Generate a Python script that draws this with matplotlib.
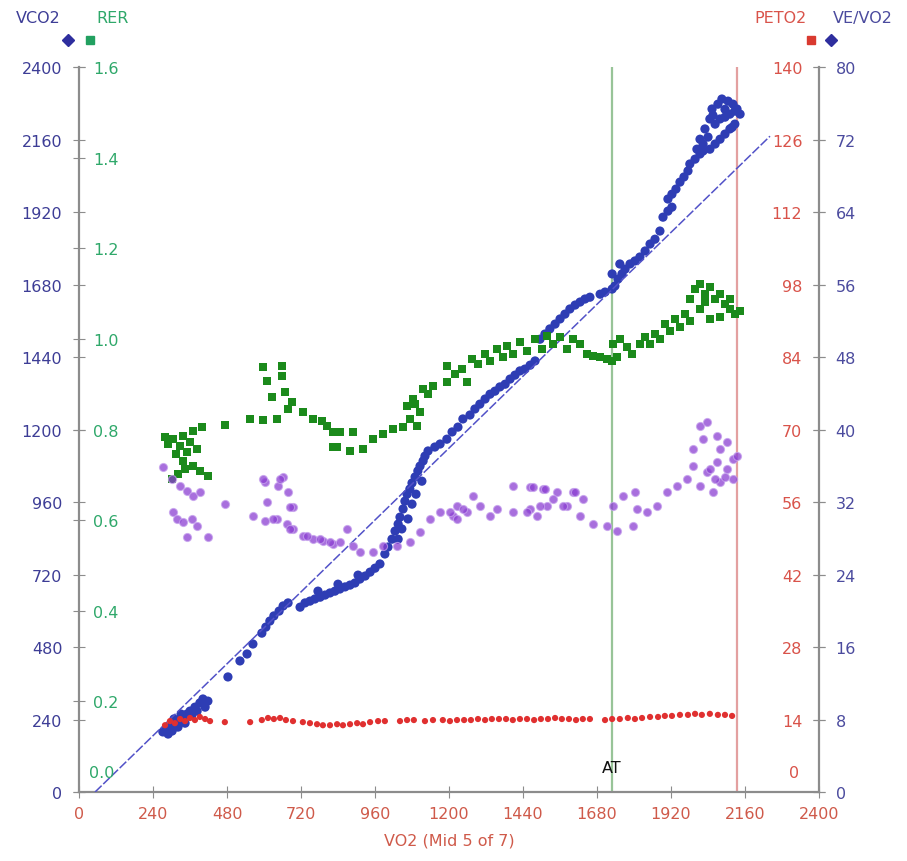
import matplotlib
matplotlib.use('Agg')
import matplotlib.pyplot as plt
from matplotlib.lines import Line2D

plt.rcParams['font.family'] = ['DejaVu Sans']

# VCO2 vs VO2 (mL/min)
vco2_vo2 = [272, 282, 295, 289, 302, 311, 321, 328, 337, 344, 350, 360, 366, 376, 383, 392, 402, 409, 418, 308, 331,
            483, 522, 545, 564, 593, 606, 619, 632, 649, 662, 678,
            717, 733, 749, 765, 782, 798, 814, 830, 846, 863, 879, 895, 911, 928, 944, 960, 976, 775, 840, 905,
            992, 1002, 1015, 1025, 1035, 1041, 1051, 1057, 1064, 1073, 1080, 1090, 1099, 1106, 1116, 1122, 1132,
            1035, 1047, 1067, 1080, 1093, 1112,
            1154, 1171, 1193, 1210, 1229, 1245, 1268, 1284, 1300, 1317, 1333, 1349, 1365, 1382, 1398, 1414, 1430,
            1446, 1463, 1479,
            1495, 1511, 1527, 1544, 1560, 1576, 1592, 1609, 1625, 1641, 1657,
            1690, 1706, 1729, 1738, 1748, 1761, 1771, 1787, 1803, 1819, 1836, 1852, 1868, 1884, 1729, 1754,
            1894, 1910, 1923, 1910, 1923, 1936, 1949, 1962, 1975, 1981, 1998, 2014, 2004, 2024,
            2014, 2030, 2046, 2053, 2072, 2085, 2105, 2121, 2134, 2144, 2127, 2111, 2095, 2079, 2063, 2046,
            2063, 2095, 2040, 2024, 2111, 2079, 2127, 2095, 2056, 2118]
vco2 = [199, 209, 215, 192, 202, 225, 215, 235, 248, 228, 258, 268, 255, 281, 268, 295, 308, 281, 301, 242, 258,
        381, 434, 457, 490, 526, 546, 566, 583, 599, 616, 626,
        612, 626, 632, 639, 645, 652, 659, 665, 672, 679, 685, 692, 705, 715, 728, 741, 755, 665, 688, 718,
        788, 811, 837, 864, 887, 910, 937, 963, 986, 1003, 1023, 1043, 1063, 1079, 1096, 1112, 1129,
        837, 871, 904, 953, 986, 1029,
        1142, 1152, 1168, 1192, 1208, 1235, 1248, 1268, 1284, 1301, 1317, 1327, 1341, 1350, 1367, 1380, 1394,
        1400, 1413, 1427,
        1499, 1516, 1533, 1549, 1566, 1582, 1599, 1612, 1622, 1632, 1638,
        1648, 1655, 1665, 1675, 1698, 1715, 1731, 1748, 1758, 1771, 1791, 1814, 1830, 1857, 1715, 1748,
        1903, 1923, 1936, 1963, 1979, 1996, 2019, 2036, 2056, 2079, 2095, 2112, 2128, 2145,
        2161, 2195, 2228, 2261, 2277, 2294, 2287, 2277, 2261, 2244, 2211, 2195, 2178, 2161, 2145, 2128,
        2211, 2234, 2168, 2122, 2244, 2228, 2254, 2260, 2240, 2200]

# RER
rer_vo2 = [279, 305, 337, 370, 399, 328, 350, 337, 370, 392, 418, 302, 360, 383, 289, 315, 344, 321,
           473, 555, 597, 642, 597, 658, 610, 658, 626, 668, 691, 678, 726, 759, 788, 804, 824, 824,
           846, 889, 837, 879, 921, 953, 986, 1018, 1051, 1096, 1064, 1083, 1116, 1148, 1193, 1106, 1073,
           1090, 1132,
           1193, 1219, 1242, 1258, 1274, 1294, 1317, 1333, 1356, 1375, 1388, 1407, 1430, 1453, 1479, 1501,
           1518, 1537, 1560, 1583, 1602, 1625, 1647, 1667, 1690, 1712, 1729, 1745, 1732, 1754, 1777, 1793,
           1819, 1836, 1852, 1868, 1884, 1900, 1917, 1933, 1949, 1965, 1981, 1998, 2014, 2030, 2046, 2063,
           2079, 2095, 2111, 2127, 2144, 2014, 2046, 2079, 1981, 2111, 2030]
rer = [0.783, 0.779, 0.786, 0.797, 0.806, 0.764, 0.750, 0.730, 0.719, 0.708, 0.697, 0.691, 0.772, 0.757,
       0.768, 0.746, 0.713, 0.702,
       0.810, 0.823, 0.821, 0.823, 0.938, 0.940, 0.907, 0.918, 0.872, 0.883, 0.861, 0.845, 0.839, 0.823,
       0.819, 0.808, 0.794, 0.761,
       0.794, 0.794, 0.761, 0.753, 0.757, 0.779, 0.790, 0.801, 0.806, 0.808, 0.852, 0.867, 0.889, 0.896,
       0.905, 0.839, 0.823, 0.856, 0.878,
       0.940, 0.922, 0.934, 0.905, 0.956, 0.945, 0.967, 0.951, 0.978, 0.960, 0.984, 0.967, 0.993, 0.973,
       1.000, 0.978,
       1.006, 0.989, 1.004, 0.978, 1.000, 0.989, 0.967, 0.962, 0.960, 0.956, 0.951, 0.960, 0.989, 1.000,
       0.982, 0.967,
       0.989, 1.004, 0.989, 1.011, 1.000, 1.033, 1.017, 1.044, 1.026, 1.055, 1.088, 1.110, 1.121, 1.099,
       1.114, 1.088,
       1.099, 1.077, 1.066, 1.055, 1.061, 1.066, 1.044, 1.048, 1.039, 1.088, 1.081]

# VE/VO2
vevo2_vo2 = [272, 302, 328, 350, 370, 392, 305, 318, 337, 366, 383, 350, 418, 473,
             603, 645, 662, 678, 610, 694, 564, 603, 642, 675, 694, 726, 759, 791, 824, 846,
             597, 652, 684, 629, 684, 739, 782, 814, 869, 889, 911, 953, 986, 1031, 1073, 1106, 1138,
             1171, 1213, 1258, 1300, 1278, 1226,
             1407, 1463, 1505, 1550, 1602, 1634, 1583, 1518, 1463, 1407, 1356, 1245, 1203, 1226, 1333,
             1485, 1625, 1667, 1472, 1511, 1537, 1495, 1453, 1570, 1609,
             1712, 1745, 1732, 1764, 1803, 1810, 1842, 1797, 1874, 1907, 1939, 1972, 1991, 2014, 2037,
             2069, 2101, 2121, 2079, 2056, 1991, 2024, 2014, 2037, 2069, 2101, 2134, 2079, 2121,
             2046, 2095, 2063]
vevo2 = [35.9, 34.5, 33.8, 33.2, 32.7, 33.1, 30.9, 30.1, 29.8, 30.1, 29.4, 28.1, 28.1, 31.8,
         34.2, 33.8, 34.8, 33.1, 32.0, 31.4, 30.5, 29.9, 30.1, 29.6, 29.0, 28.2, 27.9, 27.7, 27.4, 27.6,
         34.5, 34.5, 31.4, 30.1, 29.0, 28.2, 27.9, 27.6, 29.0, 27.1, 26.5, 26.5, 27.1, 27.1, 27.6, 28.7,
         30.1, 30.9, 30.5, 30.9, 31.6, 32.7, 31.6,
         33.8, 33.7, 33.4, 33.1, 33.1, 32.3, 31.6, 31.6, 31.2, 30.9, 31.2, 31.2, 30.9, 30.1, 30.5,
         30.5, 30.5, 29.6, 33.7, 33.4, 32.3, 31.6, 30.9, 31.6, 33.1,
         29.4, 28.8, 31.6, 32.7, 33.1, 31.2, 30.9, 29.4, 31.6, 33.1, 33.8, 34.5, 36.0, 33.8, 35.3,
         36.4, 35.6, 36.7, 34.2, 33.1, 37.8, 38.9, 40.4, 40.8, 39.3, 38.6, 37.1, 37.8, 34.5,
         35.6, 34.8, 34.5]

# PETO2
peto2_vo2 = [279, 295, 311, 328, 344, 360, 376, 392, 409, 425,
             473, 555, 593, 613, 632, 652, 671, 694,
             726, 749, 772, 791, 814, 837, 856, 879, 902, 921, 944, 970, 992,
             1041, 1064, 1086,
             1122, 1148, 1180, 1203, 1226, 1249, 1271, 1294, 1317, 1339, 1362, 1385, 1407, 1430, 1453, 1476,
             1498, 1521, 1544, 1566, 1589, 1612, 1634, 1657,
             1706, 1729, 1754, 1780, 1803, 1826, 1852, 1878, 1900, 1923, 1949, 1975, 1998, 2020, 2046, 2072,
             2095, 2118]
peto2 = [12.9, 13.7, 13.3, 14.1, 13.7, 14.3, 13.9, 14.5, 14.1, 13.7,
         13.5, 13.5, 13.9, 14.3, 14.1, 14.3, 13.9, 13.7,
         13.5, 13.3, 13.1, 12.9, 12.9, 13.1, 12.9, 13.1, 13.3, 13.1, 13.5, 13.7, 13.7,
         13.7, 13.9, 13.9,
         13.7, 13.9, 13.9, 13.7, 13.9, 13.9, 13.9, 14.1, 13.9, 14.1, 14.1, 14.1, 13.9, 14.1, 14.1, 13.9,
         14.1, 14.1, 14.3, 14.1, 14.1, 13.9, 14.1, 14.1,
         13.9, 14.1, 14.1, 14.3, 14.1, 14.3, 14.5, 14.5, 14.7, 14.7, 14.9, 14.9, 15.1, 14.9, 15.1, 14.9,
         14.9, 14.7]

# regression line of VCO2 on VO2
fit_vo2 = [52, 2241]
fit_vco2 = [0, 2171]

at_vo2 = 1728
max_vo2 = 2134

x_ticks = [0, 240, 480, 720, 960, 1200, 1440, 1680, 1920, 2160, 2400]
vco2_ticks = [0, 240, 480, 720, 960, 1200, 1440, 1680, 1920, 2160, 2400]
rer_ticks = [0.0, 0.2, 0.4, 0.6, 0.8, 1.0, 1.2, 1.4, 1.6]
peto2_ticks = [0, 14, 28, 42, 56, 70, 84, 98, 112, 126, 140]
vevo2_ticks = [0, 8, 16, 24, 32, 40, 48, 56, 64, 72, 80]

c_vco2 = '#3d3d96'
c_rer = '#2fa86a'
c_pet = '#d9534a'
c_ve = '#4b4b9e'
c_x = '#cf5a4a'
spine_c = '#8c8c8c'
fs = 11.5

fig = plt.figure(figsize=(9.07, 8.62), dpi=100)
ax = fig.add_axes([0.0871, 0.0800, 0.8159, 0.8411])
ax.set_xlim(0, 2400)
ax.set_ylim(0, 2400)

for s in ['left', 'bottom', 'right']:
    ax.spines[s].set_color(spine_c)
    ax.spines[s].set_linewidth(1.6)
ax.spines['top'].set_visible(False)

ax.set_xticks(x_ticks)
ax.set_xticklabels([str(t) for t in x_ticks])
ax.set_yticks(vco2_ticks)
ax.set_yticklabels([str(t) for t in vco2_ticks])
ax.tick_params(axis='x', direction='inout', length=8, color=spine_c, labelcolor=c_x, labelsize=fs, pad=6)
ax.tick_params(axis='y', direction='inout', length=8, color=spine_c, labelcolor=c_vco2, labelsize=fs, pad=8)
ax.set_xlabel('VO2 (Mid 5 of 7)', color=c_x, fontsize=fs, labelpad=8)

ax.axvline(at_vo2, color='#98c498', lw=1.6, zorder=1)
ax.axvline(max_vo2, color='#e3a0a0', lw=1.6, zorder=1)
ax.text(at_vo2, 55, 'AT', ha='center', va='bottom', fontsize=fs, color='#111111')

ax.scatter(vco2_vo2, vco2, marker='o', s=44, color='#2e3db4', edgecolors='none', zorder=3)
ax.plot(fit_vo2, fit_vco2, color='#5252c8', lw=1.1, ls=(0, (6, 1.5)), zorder=4)

# RER axis: ticks on the left spine, labels inside the frame
ax_rer = ax.twinx()
ax_rer.set_ylim(0, 1.6)
ax_rer.spines['right'].set_position(('axes', 0))
for s in ax_rer.spines.values():
    s.set_visible(False)
ax_rer.set_yticks(rer_ticks)
ax_rer.set_yticklabels([''] + ['%.1f' % t for t in rer_ticks[1:]])
ax_rer.tick_params(axis='y', direction='inout', length=8, color=spine_c, labelcolor=c_rer, labelsize=fs, pad=6)
ax_rer.annotate('0.0', xy=(0, 0), xycoords=('axes fraction', 'data'), xytext=(7, 14),
                textcoords='offset points', ha='left', va='center', color=c_rer, fontsize=fs)
ax_rer.scatter(rer_vo2, rer, marker='s', s=32, color='#1b8a1b', edgecolors='none', zorder=3)

# PETO2 axis: ticks on the right spine, labels inside the frame
ax_pet = ax.twinx()
ax_pet.set_ylim(0, 140)
ax_pet.yaxis.set_ticks_position('left')
ax_pet.spines['left'].set_position(('axes', 1))
for s in ax_pet.spines.values():
    s.set_visible(False)
ax_pet.set_yticks(peto2_ticks)
ax_pet.set_yticklabels([''] + [str(t) for t in peto2_ticks[1:]])
ax_pet.tick_params(axis='y', direction='inout', length=8, color=spine_c, labelcolor=c_pet, labelsize=fs, pad=8)
ax_pet.annotate('0', xy=(1, 0), xycoords=('axes fraction', 'data'), xytext=(-14, 14),
                textcoords='offset points', ha='right', va='center', color=c_pet, fontsize=fs)
ax_pet.scatter(peto2_vo2, peto2, marker='o', s=20, color='#e03030', edgecolors='none', zorder=3)

# VE/VO2 axis on the right
ax_ve = ax.twinx()
ax_ve.set_ylim(0, 80)
for s in ax_ve.spines.values():
    s.set_visible(False)
ax_ve.set_yticks(vevo2_ticks)
ax_ve.set_yticklabels([str(t) for t in vevo2_ticks])
ax_ve.tick_params(axis='y', direction='inout', length=8, color=spine_c, labelcolor=c_ve, labelsize=fs, pad=8)
ax_ve.scatter(vevo2_vo2, vevo2, marker='o', s=34, facecolor='#8b3fd2', edgecolors='#c7a3ee',
              linewidths=0.8, alpha=0.75, zorder=3)

# axis titles with their marker keys
fig.text(0.042, 0.979, 'VCO2', ha='center', va='center', color=c_vco2, fontsize=fs)
fig.text(0.124, 0.979, 'RER', ha='center', va='center', color=c_rer, fontsize=fs)
fig.text(0.860, 0.979, 'PETO2', ha='center', va='center', color=c_pet, fontsize=fs)
fig.text(0.951, 0.979, 'VE/VO2', ha='center', va='center', color=c_ve, fontsize=fs)
fig.add_artist(Line2D([0.075], [0.952], transform=fig.transFigure, marker='D', ms=6, color='#2e2e9e', ls=''))
fig.add_artist(Line2D([0.0992], [0.952], transform=fig.transFigure, marker='s', ms=6, color='#22a060', ls=''))
fig.add_artist(Line2D([0.894], [0.952], transform=fig.transFigure, marker='s', ms=6, color='#d93a30', ls=''))
fig.add_artist(Line2D([0.916], [0.952], transform=fig.transFigure, marker='D', ms=6, color='#2e2e9e', ls=''))

fig.savefig('out.png', dpi=100)
